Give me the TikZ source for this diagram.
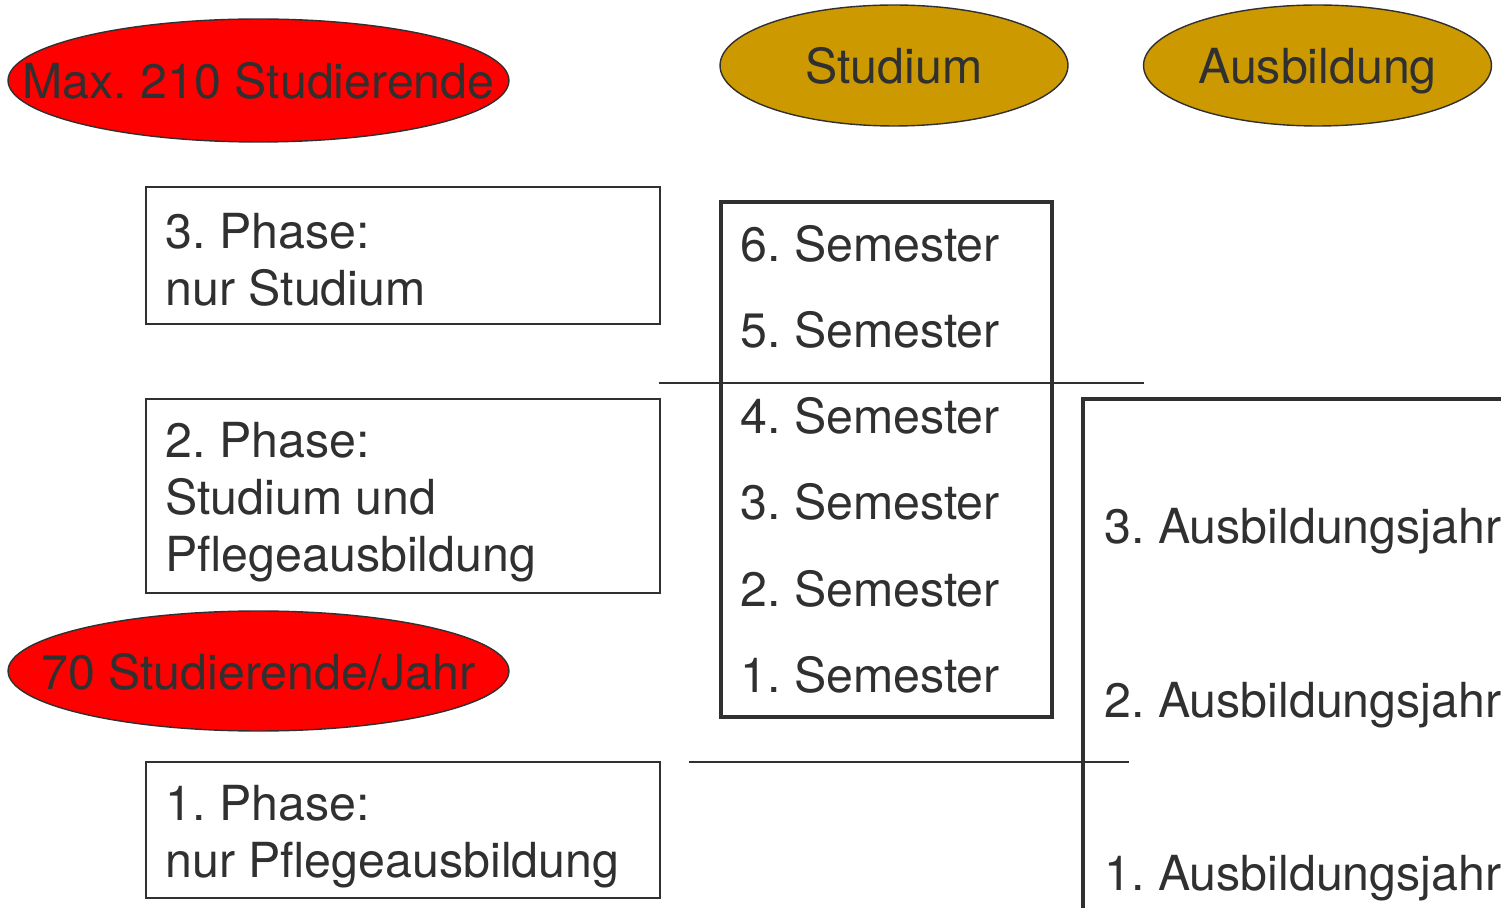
\documentclass[tikz,border=0pt]{standalone}
\usepackage{fontspec}
\setmainfont{TeX Gyre Heros}
\usepackage{tikz}
\usetikzlibrary{shapes.geometric}
\definecolor{planred}{RGB}{255, 0, 0}
\definecolor{plangold}{RGB}{204, 153, 0}
\definecolor{planink}{RGB}{48, 48, 48}
\frenchspacing

\begin{document}
\begin{tikzpicture}[x=0.02cm, y=-0.02cm,
  every node/.style={font=\fontsize{27.5}{32.3}\selectfont, text=planink},
  redoval/.style={draw=planink, line width=0.8pt, ellipse, fill=planred, inner sep=0pt},
  goldoval/.style={draw=planink, line width=0.8pt, ellipse, fill=plangold, inner sep=0pt, minimum width=6.96cm, minimum height=2.42cm},
  phasebox/.style={draw=planink, line width=1.1pt, rectangle, inner sep=0pt, minimum width=10.28cm},
  label/.style={inner sep=0pt},
  divider/.style={draw=planink, line width=0.85pt},
  frame/.style={draw=planink, line width=2pt}]
\useasboundingbox (0,0) rectangle (1501,908);

% Headers
\node[redoval, minimum width=10.02cm, minimum height=2.46cm] (maxoval) at (258.5,80.5) {};
\node[label, anchor=base] (maxtext) at (258.5,99) {Max. 210 Studierende};
\node[goldoval] (studoval) at (894,65.5) {};
\node[label, anchor=base] (studtext) at (894,84) {Studium};
\node[goldoval] (ausoval) at (1317.5,65.5) {};
\node[label, anchor=base] (austext) at (1317.5,84) {Ausbildung};

% Phases
\node[phasebox, minimum height=2.74cm] (phase3) at (403,255.5) {};
\node[label, anchor=north west, align=left] (phase3text) at (165,213) {3. Phase:\\nur Studium};
\node[phasebox, minimum height=3.88cm] (phase2) at (403,496) {};
\node[label, anchor=north west, align=left] (phase2text) at (165,422) {2. Phase:\\Studium und\\Pflegeausbildung};
\node[redoval, minimum width=10.02cm, minimum height=2.4cm] (yearoval) at (258.5,671) {};
\node[label, anchor=base] (yeartext) at (258.5,689) {70 Studierende/Jahr};
\node[phasebox, minimum height=2.72cm] (phase1) at (403,830) {};
\node[label, anchor=north west, align=left] (phase1text) at (165,785) {1. Phase:\\nur Pflegeausbildung};

% Semesters
\node[draw=planink, line width=2pt, rectangle, inner sep=0pt, minimum width=6.62cm, minimum height=10.3cm] (sembox) at (886.5,459.5) {};
\node[label, anchor=base west] (sem6) at (740,262) {6. Semester};
\node[label, anchor=base west] (sem5) at (740,348) {5. Semester};
\node[label, anchor=base west] (sem4) at (740,434) {4. Semester};
\node[label, anchor=base west] (sem3) at (740,520) {3. Semester};
\node[label, anchor=base west] (sem2) at (740,606) {2. Semester};
\node[label, anchor=base west] (sem1) at (740,692) {1. Semester};

% Training years
\coordinate (ausfoot) at (1083,915);
\coordinate (auscorner) at (1083,399);
\coordinate (ausend) at (1510,399);
\draw[frame] (ausfoot) -- (auscorner) -- (ausend);
\node[label, anchor=base west] (year3) at (1104,543) {3. Ausbildungsjahr};
\node[label, anchor=base west] (year2) at (1104,717) {2. Ausbildungsjahr};
\node[label, anchor=base west] (year1) at (1104,890) {1. Ausbildungsjahr};

% Phase borders
\coordinate (cut1w) at (659,383);
\coordinate (cut1e) at (1144,383);
\draw[divider] (cut1w) -- (cut1e);
\coordinate (cut2w) at (689,762);
\coordinate (cut2e) at (1129,762);
\draw[divider] (cut2w) -- (cut2e);
\end{tikzpicture}
\end{document}
